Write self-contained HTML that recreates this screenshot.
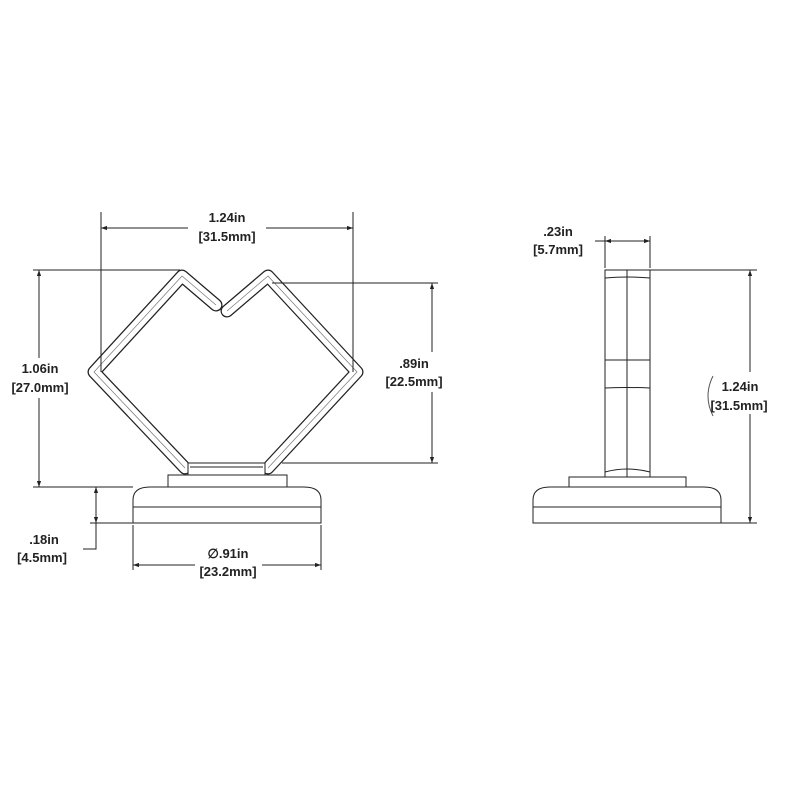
<!DOCTYPE html>
<html><head><style>
html,body{margin:0;padding:0;background:#fff;}
svg{display:block;}
text{font-family:"Liberation Sans",Arial,sans-serif;font-size:13px;font-weight:bold;fill:#222;text-anchor:middle;}
</style></head><body>
<svg width="800" height="800" viewBox="0 0 800 800">
<defs>
<marker id="a" viewBox="0 0 10 10" refX="10" refY="5" markerWidth="9" markerHeight="6" orient="auto-start-reverse" markerUnits="userSpaceOnUse"><path d="M0,1.5 L10,5 L0,8.5 z" fill="#222"/></marker>
</defs>
<g fill="none" stroke="#222" stroke-width="1">
<!-- left wire -->
<path d="M216,305 L182,276 L94,372 L185,468 M227,311 L268,276 L357,372 L268,468" stroke="#222" stroke-width="13" stroke-linejoin="round" stroke-linecap="round"/>
<path d="M216,305 L182,276 L94,372 L185,468 M227,311 L268,276 L357,372 L268,468" stroke="#fff" stroke-width="10.5" stroke-linejoin="round" stroke-linecap="round"/>
<path d="M216,305 L182,276 L94,372 L185,468 M227,311 L268,276 L357,372 L268,468" stroke="#777" stroke-width="0.7" stroke-linejoin="round"/>
<rect x="188" y="463" width="77" height="12" fill="#fff"/>
<line x1="190" y1="467" x2="263" y2="467"/>
<rect x="168" y="475" width="119" height="12" fill="#fff"/>
<path d="M133,523 L133,500 Q133,487 150,487 L304,487 Q321,487 321,500 L321,523 Z" fill="#fff"/>
<line x1="133" y1="507" x2="321" y2="507"/>
<!-- right view -->
<rect x="605" y="270" width="45" height="207" fill="#fff"/>
<line x1="627" y1="270" x2="627" y2="477"/>
<path d="M605,278 Q627,276 650,278 M605,360 L650,360 M605,388 Q627,387 650,388 M605,472 Q627,466 650,472"/>
<rect x="569" y="477" width="117" height="10" fill="#fff"/>
<path d="M533,523 L533,500 Q533,487 550,487 L704,487 Q721,487 721,500 L721,523 Z" fill="#fff"/>
<line x1="533" y1="507" x2="721" y2="507"/>
<!-- dims left -->
<line x1="101" y1="212" x2="101" y2="372"/>
<line x1="353" y1="212" x2="353" y2="372"/>
<line x1="101" y1="228" x2="188" y2="228" marker-start="url(#a)"/>
<line x1="266" y1="228" x2="353" y2="228" marker-end="url(#a)"/>
<line x1="33" y1="270" x2="180" y2="270"/>
<line x1="33" y1="487" x2="133" y2="487"/>
<line x1="39" y1="270" x2="39" y2="358" marker-start="url(#a)"/>
<line x1="39" y1="398" x2="39" y2="487" marker-end="url(#a)"/>
<line x1="272" y1="283" x2="438" y2="283"/>
<line x1="282" y1="463" x2="438" y2="463"/>
<line x1="432" y1="283" x2="432" y2="352" marker-start="url(#a)"/>
<line x1="432" y1="392" x2="432" y2="463" marker-end="url(#a)"/>
<line x1="90" y1="523" x2="133" y2="523"/>
<line x1="96" y1="487" x2="96" y2="505" marker-start="url(#a)"/>
<line x1="96" y1="505" x2="96" y2="523" marker-end="url(#a)"/>
<polyline points="96,523 96,549 83,549"/>
<line x1="133" y1="525" x2="133" y2="570"/>
<line x1="321" y1="525" x2="321" y2="570"/>
<line x1="133" y1="565" x2="195" y2="565" marker-start="url(#a)"/>
<line x1="262" y1="565" x2="321" y2="565" marker-end="url(#a)"/>
<!-- dims right -->
<line x1="605" y1="236" x2="605" y2="268"/>
<line x1="650" y1="236" x2="650" y2="268"/>
<line x1="595" y1="241" x2="605" y2="241"/>
<line x1="605" y1="241" x2="650" y2="241" marker-start="url(#a)" marker-end="url(#a)"/>
<line x1="650" y1="270" x2="757" y2="270"/>
<line x1="721" y1="523" x2="757" y2="523"/>
<line x1="750" y1="270" x2="750" y2="523" marker-start="url(#a)" marker-end="url(#a)"/>
</g>
<rect x="715" y="372" width="50" height="42" fill="#fff"/>
<path d="M713,376 Q703,396 713,416" fill="none" stroke="#555" stroke-width="1"/>
<text x="227" y="222">1.24in</text><text x="227" y="241">[31.5mm]</text>
<text x="40" y="373">1.06in</text><text x="40" y="392">[27.0mm]</text>
<text x="414" y="368">.89in</text><text x="414" y="386">[22.5mm]</text>
<text x="44" y="544">.18in</text><text x="42" y="562">[4.5mm]</text>
<text x="228" y="558">∅.91in</text><text x="228" y="576">[23.2mm]</text>
<text x="558" y="236">.23in</text><text x="558" y="254">[5.7mm]</text>
<text x="740" y="391">1.24in</text><text x="739" y="410">[31.5mm]</text>
</svg>
</body></html>
